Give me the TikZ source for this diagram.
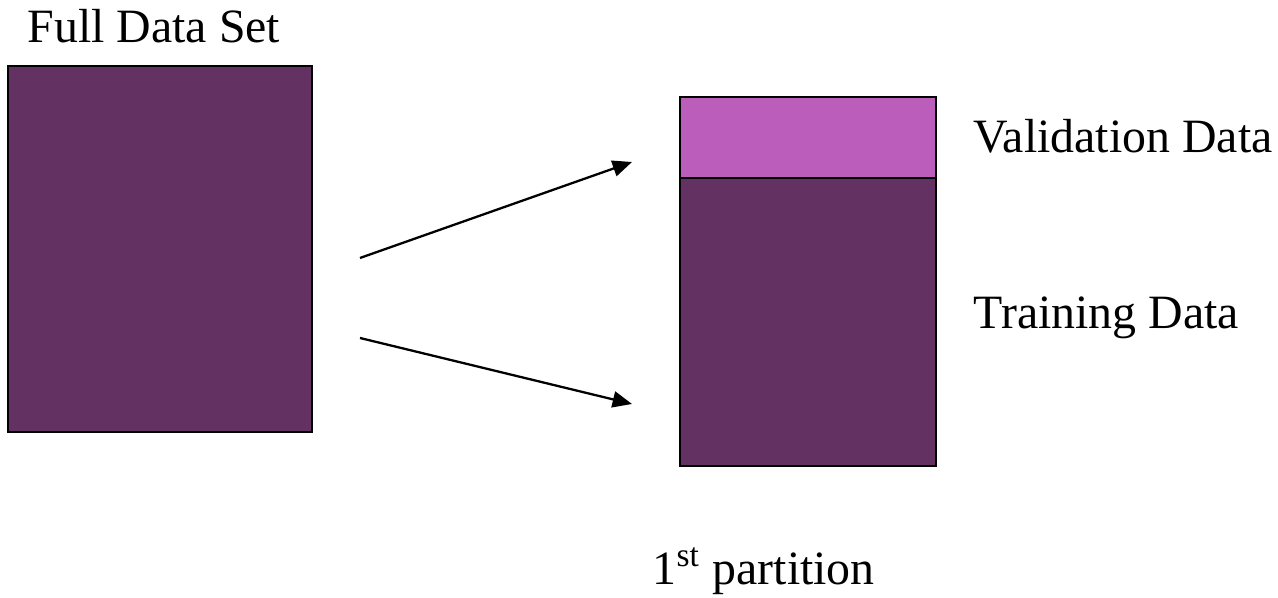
\documentclass[tikz,border=0pt]{standalone}
\usepackage{fontspec}
\setmainfont{Liberation Serif}
\usetikzlibrary{arrows.meta}
\definecolor{darkplum}{RGB}{99,50,98}
\definecolor{lightplum}{RGB}{187,94,187}

\begin{document}
\begin{tikzpicture}[x=0.01cm, y=-0.01cm, >={Triangle[length=5.5pt,width=4.6pt]},
    block/.style={draw=black, line width=0.6pt, inner sep=0pt, outer sep=0pt, anchor=north west},
    lbl/.style={inner sep=0pt, anchor=base west, font=\fontsize{13.6}{16}\selectfont}]
    \useasboundingbox (0,0) rectangle (1278,598);

    % Full data set
    \node[block, fill=darkplum, minimum width=3.04cm, minimum height=3.66cm] (full) at (8,66) {};
    \node[lbl] (fulltxt) at (27,43) {Full Data Set};

    % 1st partition: validation + training
    \node[block, fill=lightplum, minimum width=2.56cm, minimum height=0.81cm] (valid) at (680,97) {};
    \node[block, fill=darkplum, minimum width=2.56cm, minimum height=2.88cm] (train) at (680,178) {};
    \node[lbl] (validtxt) at (973,153) {Validation Data};
    \node[lbl] (traintxt) at (973,329) {Training Data};
    \node[lbl] (parttxt) at (652,585) {1\textsuperscript{st} partition};

    % Arrows
    \coordinate (a1) at (360,258);
    \coordinate (b1) at (632,162);
    \coordinate (a2) at (360,338);
    \coordinate (b2) at (632,404);
    \draw[->, line width=0.65pt] (a1) -- (b1);
    \draw[->, line width=0.65pt] (a2) -- (b2);
\end{tikzpicture}
\end{document}
